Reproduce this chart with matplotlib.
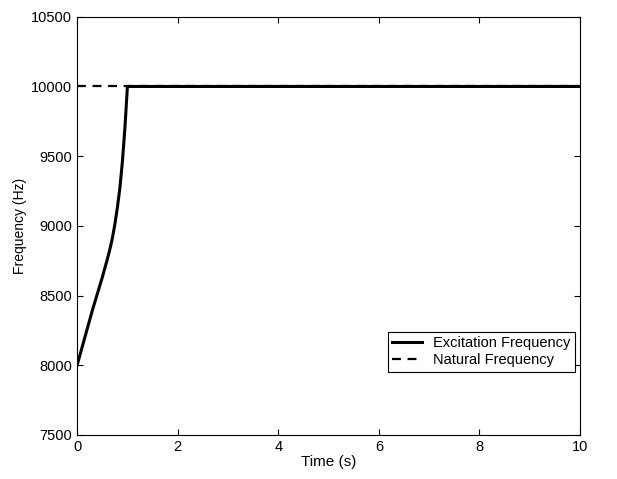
import numpy as np
import matplotlib.pyplot as plt

plt.rcParams['font.family'] = ['Liberation Sans', 'DejaVu Sans']

# --- data ---
t_exc = [0, 0.1, 0.2, 0.3, 0.4, 0.5, 0.6, 0.65, 0.7, 0.75, 0.8, 0.85, 0.9, 0.95, 1.0, 10]
f_exc = [8000, 8130, 8260, 8390, 8510, 8630, 8760, 8830, 8910, 9010, 9130, 9270, 9460, 9700, 10000, 10000]

t_nat = [0, 10]
f_nat = [10000, 10000]

fig = plt.figure(figsize=(6.17, 4.79), dpi=100)
ax = fig.add_axes([0.125, 0.092, 0.815, 0.873])

ax.plot(t_exc, f_exc, color='black', lw=2.2, label='Excitation Frequency')
ax.plot(t_nat, f_nat, color='black', lw=1.6, ls=(0, (4, 3)), label='Natural Frequency')

ax.set_xlim(0, 10)
ax.set_ylim(7500, 10500)
ax.set_xticks([0, 2, 4, 6, 8, 10])
ax.set_yticks(np.arange(7500, 10501, 500))
ax.tick_params(direction='in', top=True, right=True, labelsize=10.5, length=4)
ax.set_xlabel('Time (s)', fontsize=11, labelpad=1)
ax.set_ylabel('Frequency (Hz)', fontsize=10, labelpad=3)

leg = ax.legend(loc='upper right', bbox_to_anchor=(0.99, 0.246), fontsize=10.5,
                fancybox=False, edgecolor='black', framealpha=1, borderaxespad=0,
                handlelength=2.0, borderpad=0.3, labelspacing=0.2)
leg.get_frame().set_linewidth(0.8)

plt.savefig('out.png', dpi=100)
